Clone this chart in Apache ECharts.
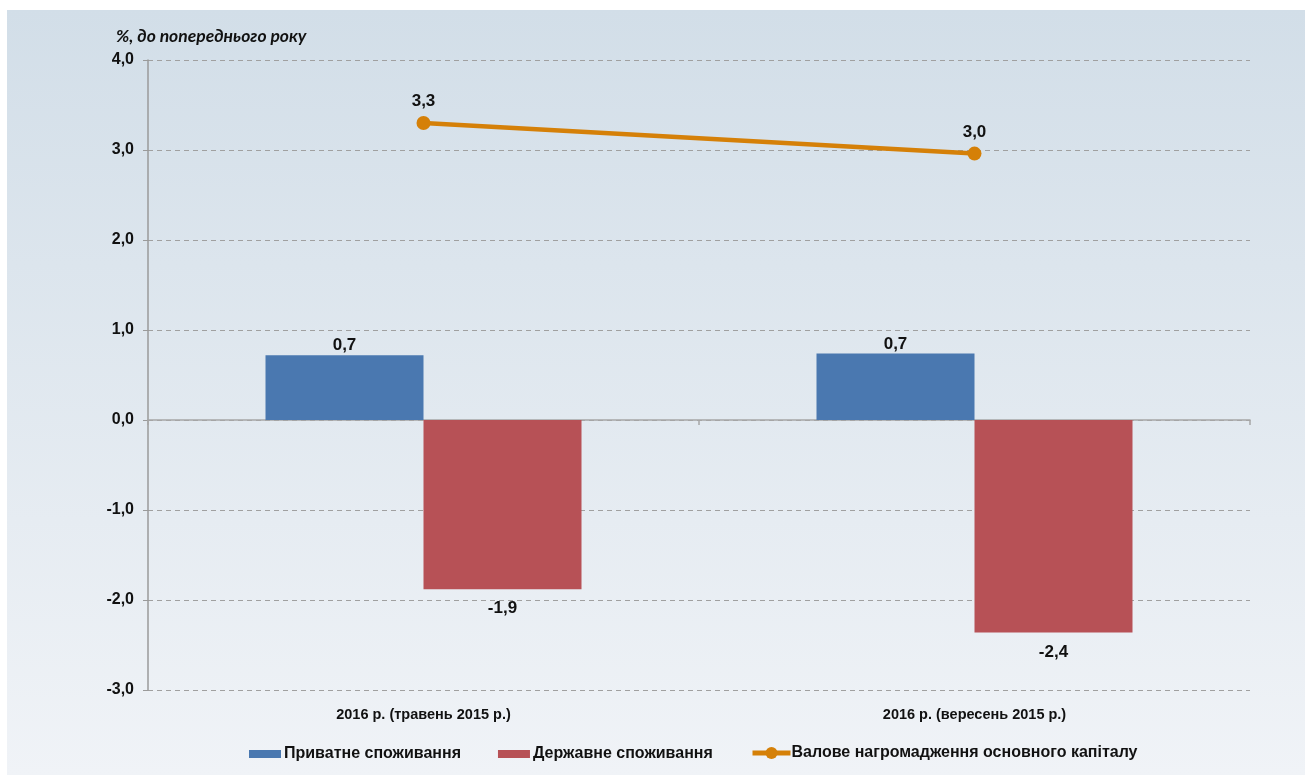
<!DOCTYPE html>
<html>
<head>
<meta charset="utf-8">
<script src="https://cdn.jsdelivr.net/npm/echarts@6/dist/echarts.min.js"></script>
<style>
html,body{margin:0;padding:0;background:#fff;}
#c{width:1305px;height:775px;}
</style>
</head>
<body>
<div id="c"></div>
<script>
const categories = ['2016 р. (травень 2015 р.)', '2016 р. (вересень 2015 р.)'];
const privateCons = [0.72, 0.74];
const govCons = [-1.88, -2.36];
const grossCap = [3.3, 2.96];
const seriesNames = ['Приватне споживання', 'Державне споживання', 'Валове нагромадження основного капіталу'];
const yTitle = '%, до попереднього року';

const NARROW = '"Liberation Sans Narrow","Arial Narrow","Liberation Sans",sans-serif';
const fmt = v => (Math.round(v * 10) / 10).toFixed(1).replace('.', ',');

const chart = echarts.init(document.getElementById('c'), null, {renderer: 'canvas'});
chart.setOption({
  animation: false,
  graphic: [{
    type: 'rect', left: 7, top: 10, z: -10, silent: true,
    shape: {width: 1298, height: 765},
    style: {fill: new echarts.graphic.LinearGradient(0, 0, 0, 1, [
      {offset: 0, color: '#d2dee8'}, {offset: 1, color: '#f0f3f7'}])}
  }],
  title: {
    text: yTitle, left: 111, top: 22,
    textStyle: {fontFamily: 'Lato, "Open Sans", sans-serif', fontStyle: 'italic', fontWeight: 'bold', fontSize: 17.5, color: '#111'}
  },
  grid: {left: 148, right: 55, top: 60, bottom: 85, containLabel: false},
  legend: [{
    left: 244, top: 741, itemGap: 37, itemWidth: 32, itemHeight: 8,
    data: [
      {name: seriesNames[0], icon: 'rect'},
      {name: seriesNames[1], icon: 'rect'}
    ],
    textStyle: {fontFamily: NARROW, fontWeight: 'bold', fontSize: 16, color: '#111', padding: [0, 0, 0, -2]}
  }, {
    left: 745, top: 740, itemWidth: 38, itemHeight: 15,
    data: [{name: seriesNames[2]}],
    lineStyle: {width: 5},
    textStyle: {fontFamily: NARROW, fontWeight: 'bold', fontSize: 16, color: '#111', padding: [0, 0, 0, -4]}
  }],
  xAxis: [{
    type: 'category', data: categories,
    axisLine: {onZero: true, lineStyle: {color: '#a6a6a6', width: 1.5}},
    axisTick: {show: true, length: 5, lineStyle: {color: '#a6a6a6', width: 1.5}},
    axisLabel: {show: false}
  }, {
    type: 'category', data: categories, position: 'bottom',
    axisLine: {show: false, onZero: false}, axisTick: {show: false},
    axisLabel: {margin: 17, fontFamily: NARROW, fontWeight: 'bold', fontSize: 14.5, color: '#111'}
  }],
  yAxis: {
    type: 'value', min: -3, max: 4, interval: 1,
    axisLine: {show: true, lineStyle: {color: '#9a9a9a', width: 1.5}},
    axisTick: {show: true, length: 5, lineStyle: {color: '#9a9a9a'}},
    axisLabel: {margin: 14, formatter: v => fmt(v), fontFamily: NARROW, fontWeight: 'bold', fontSize: 16, color: '#111'},
    splitLine: {show: true, lineStyle: {color: '#a0a0a0', type: [5, 4], width: 1}}
  },
  series: [{
    name: seriesNames[0], type: 'bar', data: privateCons, barWidth: 158, barGap: '0%',
    itemStyle: {color: '#4a78b0'},
    label: {show: true, position: 'top', distance: 1, formatter: p => fmt(p.value), fontFamily: NARROW, fontWeight: 'bold', fontSize: 17, color: '#111'}
  }, {
    name: seriesNames[1], type: 'bar', data: govCons, barWidth: 158, barGap: '0%',
    itemStyle: {color: '#b75156'},
    label: {show: true, position: 'bottom', distance: 11, formatter: p => fmt(p.value), fontFamily: NARROW, fontWeight: 'bold', fontSize: 17, color: '#111'}
  }, {
    name: seriesNames[2], type: 'line', data: grossCap,
    symbol: 'circle', symbolSize: 14,
    lineStyle: {color: '#d58008', width: 4.5},
    itemStyle: {color: '#d58008'},
    label: {show: true, position: 'top', distance: 6, formatter: p => fmt(p.value), fontFamily: NARROW, fontWeight: 'bold', fontSize: 17, color: '#111'}
  }]
});
</script>
</body>
</html>
